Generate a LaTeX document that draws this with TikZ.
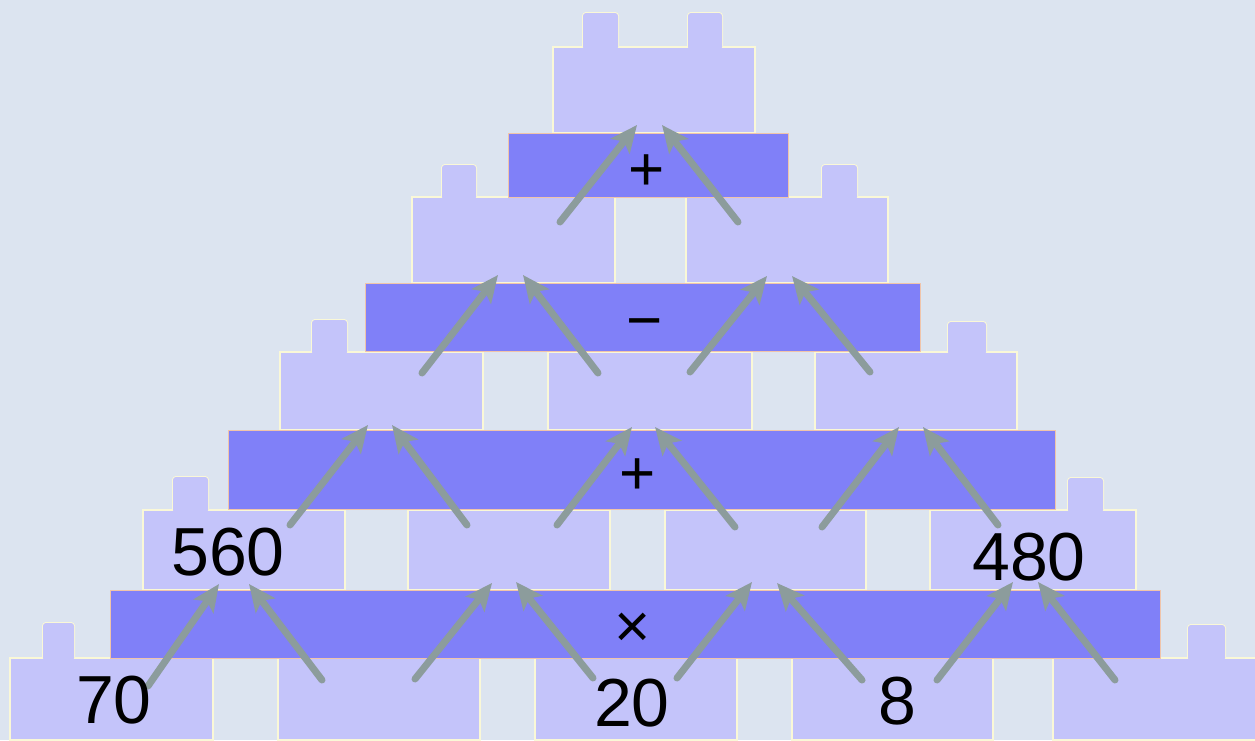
\documentclass[tikz,border=0pt]{standalone}
\usepackage{fontspec}
\setmainfont{Liberation Sans}
\usetikzlibrary{arrows.meta}
\definecolor{bg}{RGB}{220,228,240}
\definecolor{brickc}{RGB}{196,196,250}
\definecolor{barc}{RGB}{128,128,248}
\definecolor{edgec}{RGB}{250,248,215}
\definecolor{baredge}{RGB}{240,196,170}
\definecolor{arrowc}{RGB}{140,156,156}
\begin{document}
\begin{tikzpicture}[x=1pt,y=-1pt,
 brick/.style={rectangle, fill=brickc, draw=edgec, line width=2pt, inner sep=0pt},
 stud/.style={fill=brickc, draw=edgec, line width=2pt, rounded corners=3pt},
 studfill/.style={fill=brickc, rounded corners=3pt},
 bar/.style={rectangle, fill=barc, draw=baredge, line width=1pt, inner sep=0pt},
 num/.style={font=\fontsize{68}{80}\selectfont, inner sep=0pt, text=black},
 op/.style={font=\fontsize{62}{70}\selectfont, inner sep=0pt, text=black},
 arr/.style={draw=arrowc, line width=7pt, line cap=round, -{Stealth[length=27pt,width=24pt,inset=6pt]}}]
\useasboundingbox (0,0) rectangle (1255,740);
\clip (0,0) rectangle (1255,740);
\fill[bg] (0,0) rectangle (1255,740);
% stud outlines
\foreach \xa/\xb/\yt/\yb in {43/74/623/658, 1188/1225/625/658, 173/208/477/510, 1068/1103/478/510,
  312/347/320/352, 948/986/322/352, 442/476/165/197, 822/857/165/197, 583/618/13/47, 688/722/13/47}
  \path[stud] (\xa,\yt) rectangle (\xb,\yb+4);
% bricks
\node[brick, minimum width=203pt, minimum height=82pt] (b00) at (111.5,699) {};
\node[brick, minimum width=202pt, minimum height=82pt] (b01) at (379,699) {};
\node[brick, minimum width=202pt, minimum height=82pt] (b02) at (636,699) {};
\node[brick, minimum width=201pt, minimum height=82pt] (b03) at (892.5,699) {};
\node[brick, minimum width=209pt, minimum height=82pt] (b04) at (1157.5,699) {};
\node[brick, minimum width=202pt, minimum height=80pt] (b10) at (244,550) {};
\node[brick, minimum width=202pt, minimum height=80pt] (b11) at (509,550) {};
\node[brick, minimum width=201pt, minimum height=80pt] (b12) at (765.5,550) {};
\node[brick, minimum width=206pt, minimum height=80pt] (b13) at (1033,550) {};
\node[brick, minimum width=203pt, minimum height=78pt] (b20) at (381.5,391) {};
\node[brick, minimum width=204pt, minimum height=78pt] (b21) at (650,391) {};
\node[brick, minimum width=202pt, minimum height=78pt] (b22) at (916,391) {};
\node[brick, minimum width=203pt, minimum height=86pt] (b30) at (513.5,240) {};
\node[brick, minimum width=202pt, minimum height=86pt] (b31) at (787,240) {};
\node[brick, minimum width=202pt, minimum height=86pt] (b40) at (654,90) {};
% stud fills (hide seams)
\foreach \xa/\xb/\yt/\yb in {43/74/623/658, 1188/1225/625/658, 173/208/477/510, 1068/1103/478/510,
  312/347/320/352, 948/986/322/352, 442/476/165/197, 822/857/165/197, 583/618/13/47, 688/722/13/47}
  \path[studfill] (\xa,\yt) rectangle (\xb,\yb+3);
% bars
\node[bar, minimum width=1050pt, minimum height=68pt] (bar1) at (635,624) {};
\node[bar, minimum width=827pt, minimum height=79pt] (bar2) at (641.5,469.5) {};
\node[bar, minimum width=555pt, minimum height=68pt] (bar3) at (642.5,317) {};
\node[bar, minimum width=280pt, minimum height=64pt] (bar4) at (648,165) {};
% operators
\node[op] (op4) at (647,173) {+};
\node[op] (op3) at (645,330) {−};
\node[op] (op2) at (638,477) {+};
\node[op] (op1) at (633,630) {×};
% arrows row0 -> row1
\draw[arr] ([shift={(36.5,-13)}]b00.center) -- ([shift={(-25,34)}]b10.center);
\draw[arr] ([shift={(-57,-19)}]b01.center) -- ([shift={(5,34)}]b10.center);
\draw[arr] ([shift={(36,-20)}]b01.center) -- ([shift={(-17,33)}]b11.center);
\draw[arr] ([shift={(-43,-21)}]b02.center) -- ([shift={(7,32)}]b11.center);
\draw[arr] ([shift={(41,-21)}]b02.center) -- ([shift={(-13.5,32)}]b12.center);
\draw[arr] ([shift={(-30.5,-19)}]b03.center) -- ([shift={(11.5,33)}]b12.center);
\draw[arr] ([shift={(44.5,-19)}]b03.center) -- ([shift={(-20,32)}]b13.center);
\draw[arr] ([shift={(-42.5,-19)}]b04.center) -- ([shift={(5,32)}]b13.center);
% row1 -> row2
\draw[arr] ([shift={(46,-25)}]b10.center) -- ([shift={(-13.5,34)}]b20.center);
\draw[arr] ([shift={(-42,-25)}]b11.center) -- ([shift={(10.5,34)}]b20.center);
\draw[arr] ([shift={(48,-25)}]b11.center) -- ([shift={(-18,36)}]b21.center);
\draw[arr] ([shift={(-30.5,-23)}]b12.center) -- ([shift={(5,36)}]b21.center);
\draw[arr] ([shift={(56.5,-23)}]b12.center) -- ([shift={(-17,36)}]b22.center);
\draw[arr] ([shift={(-35,-25)}]b13.center) -- ([shift={(7,36)}]b22.center);
% row2 -> row3
\draw[arr] ([shift={(40.5,-18)}]b20.center) -- ([shift={(-15.5,35)}]b30.center);
\draw[arr] ([shift={(-52,-18)}]b21.center) -- ([shift={(9.5,35)}]b30.center);
\draw[arr] ([shift={(40,-19)}]b21.center) -- ([shift={(-20,36)}]b31.center);
\draw[arr] ([shift={(-46,-19)}]b22.center) -- ([shift={(5,36)}]b31.center);
% row3 -> row4
\draw[arr] ([shift={(46.5,-18)}]b30.center) -- ([shift={(-17,35)}]b40.center);
\draw[arr] ([shift={(-49,-18)}]b31.center) -- ([shift={(8,35)}]b40.center);
% numbers
\node[num] (n70) at (114,700) {70};
\node[num] (n560) at (228,552) {560};
\node[num] (n20) at (632,703) {20};
\node[num] (n8) at (897,701) {8};
\node[num] (n480) at (1029,557) {480};
\end{tikzpicture}
\end{document}
